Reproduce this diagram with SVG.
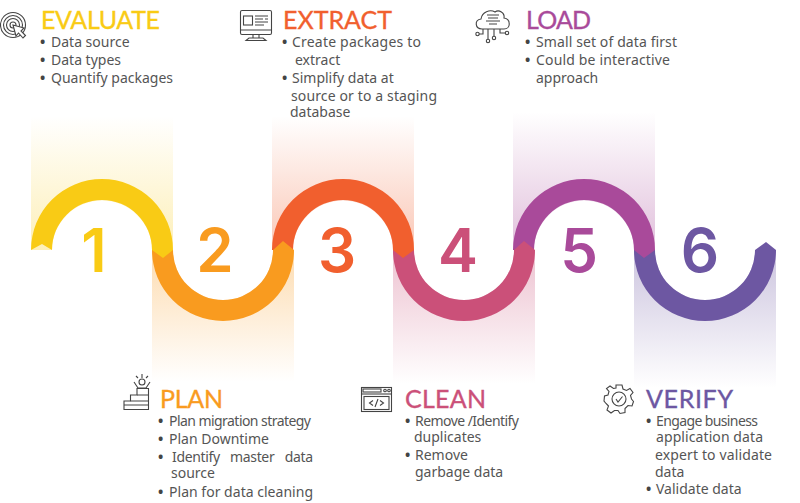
<svg xmlns="http://www.w3.org/2000/svg" width="800" height="503" viewBox="0 0 800 503">
<style>
.h{font-family:"Lato","Liberation Sans",sans-serif;font-size:25px;stroke-width:.35px}
.b{font-family:"Noto Sans","Open Sans",sans-serif;font-size:14px;fill:#555}
.p{font-weight:700;fill:#444}
.d{font-family:"Inter","Liberation Sans",sans-serif;font-size:60px;font-weight:600;text-anchor:middle}
.i{fill:none;stroke:#444;stroke-width:1.1}
</style>
<defs>
<linearGradient id="gu1" x1="0" y1="1" x2="0" y2="0"><stop offset="0" stop-color="#F9CB15" stop-opacity=".3"/><stop offset="1" stop-color="#F9CB15" stop-opacity="0"/></linearGradient>
<linearGradient id="gd2" x1="0" y1="0" x2="0" y2="1"><stop offset="0" stop-color="#F99B1F" stop-opacity=".35"/><stop offset="1" stop-color="#F99B1F" stop-opacity="0"/></linearGradient>
<linearGradient id="gu3" x1="0" y1="1" x2="0" y2="0"><stop offset="0" stop-color="#F15F2E" stop-opacity=".35"/><stop offset="1" stop-color="#F15F2E" stop-opacity="0"/></linearGradient>
<linearGradient id="gd4" x1="0" y1="0" x2="0" y2="1"><stop offset="0" stop-color="#CB5079" stop-opacity=".35"/><stop offset="1" stop-color="#CB5079" stop-opacity="0"/></linearGradient>
<linearGradient id="gu5" x1="0" y1="1" x2="0" y2="0"><stop offset="0" stop-color="#A94A9A" stop-opacity=".35"/><stop offset="1" stop-color="#A94A9A" stop-opacity="0"/></linearGradient>
<linearGradient id="gd6" x1="0" y1="0" x2="0" y2="1"><stop offset="0" stop-color="#6D57A2" stop-opacity=".35"/><stop offset="1" stop-color="#6D57A2" stop-opacity="0"/></linearGradient>
</defs>
<g id="bands">
<rect x="31" y="116" width="142" height="134" fill="url(#gu1)"/>
<rect x="152" y="250" width="142" height="132" fill="url(#gd2)"/>
<rect x="272" y="116" width="142" height="134" fill="url(#gu3)"/>
<rect x="393" y="250" width="142" height="134" fill="url(#gd4)"/>
<rect x="513" y="112" width="142" height="138" fill="url(#gu5)"/>
<rect x="634" y="250" width="142" height="138" fill="url(#gd6)"/>
<path d="M52 250.500A50 50 0 0 1 152 250.500ZM173 250A50 50 0 0 0 273 250ZM293 250.500A50 50 0 0 1 393 250.500ZM414 250A50 50 0 0 0 514 250ZM534 250.500A50 50 0 0 1 634 250.500ZM655 250A50 50 0 0 0 755 250Z" fill="#fff"/>
</g>
<g id="connectors">
<path id="arc6" d="M634 250A71 71 0 0 0 776 250L766 242 755 250A50 50 0 0 1 655 250Z" fill="#6D57A2"/>
<path id="arc5" d="M513 250A71 71 0 0 1 655 250L644 258 634 250A50 50 0 0 0 534 250Z" fill="#A94A9A"/>
<path id="arc4" d="M393 250A71 71 0 0 0 535 250L524 241 514 250A50 50 0 0 1 414 250Z" fill="#CB5079"/>
<path id="arc3" d="M272 250A71 71 0 0 1 414 250L403 258 393 250A50 50 0 0 0 293 250Z" fill="#F15F2E"/>
<path id="arc2" d="M152 250A71 71 0 0 0 294 250L283 241 273 250A50 50 0 0 1 173 250Z" fill="#F99B1F"/>
<path id="arc1" d="M31 250A71 71 0 0 1 173 250L163 258 152 250A50 50 0 0 0 52 250L42 244Z" fill="#F9CB15"/>
</g>
<g id="step1"><text class="d" x="94" y="272" fill="#F9CB15">1</text>
<text class="h" x="41" y="29" fill="#F9CB15" stroke="#F9CB15" textLength="119">EVALUATE</text>
<text class="b"><tspan class="p" x="40" y="47">•</tspan><tspan x="51" y="47">Data source</tspan><tspan class="p" x="40" y="65">•</tspan><tspan x="51" y="65">Data types</tspan><tspan class="p" x="40" y="83">•</tspan><tspan x="51" y="83">Quantify packages</tspan></text>
<g class="i"><circle cx="13" cy="25" r="12.500"/><circle cx="13" cy="25" r="9.500"/><circle cx="13" cy="25" r="6.500"/><circle cx="13" cy="25" r="3"/><path d="M13 25L16 36 18.500 33 23 38 25.500 35.500 21 31 24 28Z" fill="#fff"/></g></g>
<g id="step2"><text class="d" x="215" y="272" fill="#F99B1F">2</text>
<text class="h" x="160" y="408" fill="#F99B1F" stroke="#F99B1F" textLength="63">PLAN</text>
<text class="b"><tspan class="p" x="158" y="426">•</tspan><tspan x="169" y="426" textLength="142">Plan migration strategy</tspan><tspan class="p" x="158" y="444">•</tspan><tspan x="169" y="444">Plan Downtime</tspan><tspan class="p" x="158" y="462">•</tspan><tspan x="172" y="462" textLength="141" word-spacing="7">Identify master data</tspan><tspan x="171" y="478">source</tspan><tspan class="p" x="158" y="497">•</tspan><tspan x="169" y="497" textLength="144">Plan for data cleaning</tspan></text>
<g class="i"><path d="M124 409.500V401H130.500V395H137V388.500H148.500V409.500Z"/><path d="M124 405H148M130.500 401H148M137 395H148"/><circle cx="142" cy="382" r="3"/><path d="M134 382L138 388H146L150 382M142 378V374M136 376L138 378M148 376L146 378"/></g></g>
<g id="step3"><text class="d" x="337" y="272" fill="#F15F2E">3</text>
<text class="h" x="283" y="29" fill="#F15F2E" stroke="#F15F2E" textLength="109">EXTRACT</text>
<text class="b"><tspan class="p" x="282" y="47">•</tspan><tspan x="292" y="47" textLength="129">Create packages to</tspan><tspan x="295" y="65">extract</tspan><tspan class="p" x="282" y="83">•</tspan><tspan x="292" y="83">Simplify data at</tspan><tspan x="291" y="101" textLength="146">source or to a staging</tspan><tspan x="290" y="117">database</tspan></text>
<g class="i"><rect x="240.500" y="10.500" width="31" height="24" rx="1.500"/><path d="M240.500 30H271.500M253 34.500V38M259 34.500V38M246 40.500H266L263 38H249Z"/><rect x="243.500" y="16" width="9" height="9"/><path d="M255 16H268M255 19H263M265 19H268M255 22H268M255 25H264"/></g></g>
<g id="step4"><text class="d" x="458" y="272" fill="#CB5079">4</text>
<text class="h" x="405" y="408" fill="#CB5079" stroke="#CB5079" textLength="81">CLEAN</text>
<text class="b"><tspan class="p" x="405" y="426">•</tspan><tspan x="415" y="426" textLength="104">Remove /Identify</tspan><tspan x="414" y="442">duplicates</tspan><tspan class="p" x="405" y="460">•</tspan><tspan x="415" y="460">Remove</tspan><tspan x="415" y="477">garbage data</tspan></text>
<g class="i"><rect x="361.500" y="387.500" width="30" height="24"/><path d="M361.500 394H391.500"/><rect x="363" y="389" width="18" height="3"/><circle cx="385" cy="390.500" r="1.300"/><circle cx="389" cy="390.500" r="1.300"/><rect x="364" y="396.500" width="25" height="13"/><path d="M373 400.500L369.500 403 373 405.500M380 400.500L383.500 403 380 405.500M378 399L375 407"/></g></g>
<g id="step5"><text class="d" x="579" y="272" fill="#A94A9A">5</text>
<text class="h" x="526" y="29" fill="#A94A9A" stroke="#A94A9A" textLength="65">LOAD</text>
<text class="b"><tspan class="p" x="525" y="47">•</tspan><tspan x="536" y="47" textLength="141">Small set of data first</tspan><tspan class="p" x="525" y="65">•</tspan><tspan x="536" y="65" textLength="134">Could be interactive</tspan><tspan x="536" y="83">approach</tspan></text>
<g class="i"><path d="M482 29C475 29 474 20 481 19C482 12 490 9 495 12C499 9 505 13 504 18C511 19 511 29 504 29Z"/><path d="M487 15H499M488 18H498M486 21H500M489 24H497"/><path d="M483 29V34H479M488 29V39M494 29V36M500 29V33H505"/><circle cx="477.500" cy="34" r="1.700"/><circle cx="488" cy="41" r="1.700"/><circle cx="494" cy="38" r="1.700"/><circle cx="507" cy="33" r="1.700"/></g></g>
<g id="step6"><text class="d" x="700" y="272" fill="#6D57A2">6</text>
<text class="h" x="646" y="408" fill="#6D57A2" stroke="#6D57A2" textLength="87">VERIFY</text>
<text class="b"><tspan class="p" x="646" y="426">•</tspan><tspan x="656" y="426" textLength="102">Engage business</tspan><tspan x="656" y="442" textLength="107">application data</tspan><tspan x="655" y="460" textLength="117">expert to validate</tspan><tspan x="655" y="477">data</tspan><tspan class="p" x="646" y="494">•</tspan><tspan x="656" y="494">Validate data</tspan></text>
<g class="i"><circle cx="619" cy="399" r="7"/><path d="M616 399L618 402 622.500 396.500"/><path d="M616 385H622L623 389 626.500 390.500 630 388.500 633 392.500 630.500 395.500 631.500 399 633.500 401.500 632 406 628 405.500 625 408.500 625 412.500 620 413.500 618 410.500 614.500 410.500 611 413 607 410 608.500 406 606 403.500 604 401 604.500 396 608 395 609 391.500 606.500 388.500 610 386 613.500 388.500 616 388Z"/></g></g>
</svg>
